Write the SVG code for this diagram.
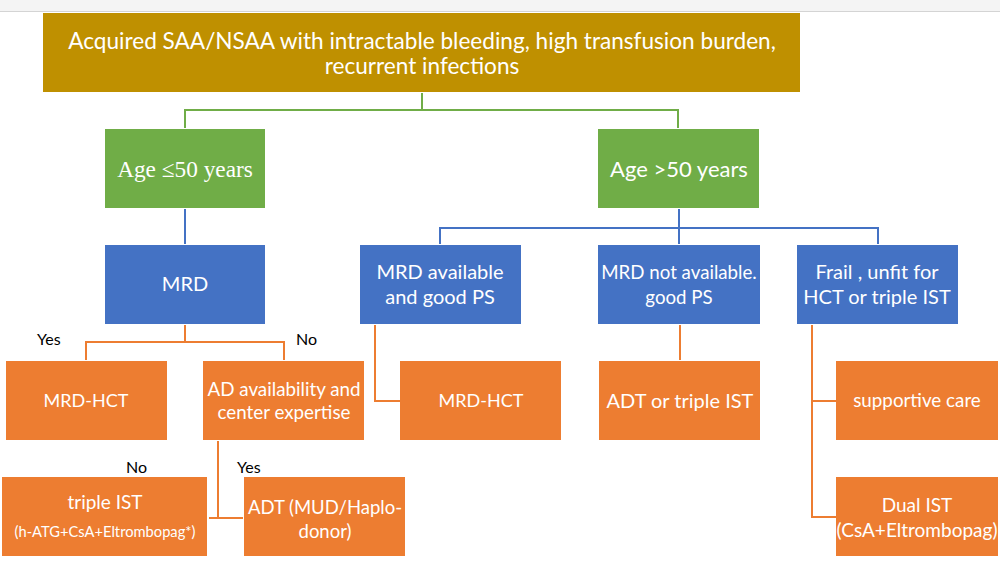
<svg xmlns="http://www.w3.org/2000/svg" width="1000" height="583" viewBox="0 0 1000 583">
<style>
.t{font-family:Lato,"Open Sans","Liberation Sans",sans-serif;fill:#fff;text-anchor:middle}
.s{font-family:"Liberation Serif",serif;fill:#fff;text-anchor:middle}
.lbl{font-family:Lato,"Liberation Sans",sans-serif;fill:#000;font-size:16px}
.gold{fill:#BF9000}
.green{fill:#70AD47}
.blue{fill:#4472C4}
.orange{fill:#ED7D31}
.cg{stroke:#70AD47;stroke-width:2;fill:none}
.cb{stroke:#4472C4;stroke-width:2;fill:none}
.co{stroke:#ED7D31;stroke-width:2;fill:none}
</style>
<rect x="0" y="0" width="1000" height="583" fill="#fff"/>
<rect x="0" y="0" width="1000" height="11" fill="#f4f4f4"/>
<line x1="0" y1="11.5" x2="1000" y2="11.5" stroke="#d4d4d4" stroke-width="1"/>
<g id="connectors">
<path class="cg" d="M422,93 V110 M185,110 H678 M185,109 V128 M678,109 V128"/>
<path class="cb" d="M185,209 V244"/>
<path class="cb" d="M679,209 V228 M440,228 H878 M440,227 V244 M679,228 V244 M878,227 V244"/>
<path class="co" d="M185,325 V342 M86,342 H284 M86,341 V360 M284,341 V360"/>
<path class="co" d="M218,441 V518 M209,518 H243"/>
<path class="co" d="M375,325 V401 H400"/>
<path class="co" d="M680,325 V360"/>
<path class="co" d="M812,325 V517 H836 M812,401 H836"/>
</g>
<g id="top"><rect class="gold" x="43" y="13" width="757" height="79"/>
<text class="t" x="422" y="49" font-size="22.6">Acquired SAA/NSAA with intractable bleeding, high transfusion burden,</text>
<text class="t" x="422" y="74" font-size="22.6">recurrent infections</text></g>
<g id="age-le50"><rect class="green" x="105" y="129" width="160" height="79"/>
<text class="s" x="185" y="177" font-size="23.3">Age ≤50 years</text></g>
<g id="age-gt50"><rect class="green" x="598" y="129" width="161" height="79"/>
<text class="t" x="679" y="177" font-size="22">Age &gt;50 years</text></g>
<g id="mrd"><rect class="blue" x="105" y="245" width="160" height="79"/>
<text class="t" x="185" y="291" font-size="20">MRD</text></g>
<g id="mrd-avail"><rect class="blue" x="360" y="245" width="161" height="79"/>
<text class="t" x="440" y="279" font-size="20">MRD available</text>
<text class="t" x="440" y="304" font-size="20">and good PS</text></g>
<g id="mrd-not"><rect class="blue" x="598" y="245" width="162" height="79"/>
<text class="t" x="679" y="279" font-size="18.7">MRD not available.</text>
<text class="t" x="679" y="304" font-size="18.7">good PS</text></g>
<g id="frail"><rect class="blue" x="797" y="245" width="161" height="79"/>
<text class="t" x="877" y="279" font-size="20">Frail , unfit for</text>
<text class="t" x="877" y="304" font-size="20">HCT or triple IST</text></g>
<g id="mrd-hct-1"><rect class="orange" x="6" y="361" width="161" height="79"/>
<text class="t" x="86" y="407" font-size="18">MRD-HCT</text></g>
<g id="ad-avail"><rect class="orange" x="203" y="361" width="161" height="79"/>
<text class="t" x="284" y="396" font-size="18.8">AD availability and</text>
<text class="t" x="284" y="419" font-size="18.8">center expertise</text></g>
<g id="mrd-hct-2"><rect class="orange" x="400" y="361" width="161" height="79"/>
<text class="t" x="481" y="407" font-size="18">MRD-HCT</text></g>
<g id="adt-or"><rect class="orange" x="599" y="361" width="161" height="79"/>
<text class="t" x="680" y="408" font-size="20">ADT or triple IST</text></g>
<g id="supportive"><rect class="orange" x="836" y="361" width="162" height="79"/>
<text class="t" x="917" y="407" font-size="18.8">supportive care</text></g>
<g id="triple-ist"><rect class="orange" x="2" y="477" width="205" height="79"/>
<text class="t" x="105" y="509" font-size="19">triple IST</text>
<text class="t" x="105" y="537" font-size="14.7">(h-ATG+CsA+Eltrombopag*)</text></g>
<g id="adt"><rect class="orange" x="244" y="477" width="161" height="79"/>
<text class="t" x="325" y="514" font-size="18.5">ADT (MUD/Haplo-</text>
<text class="t" x="325" y="538" font-size="18.5">donor)</text></g>
<g id="dual-ist"><rect class="orange" x="836" y="477" width="162" height="79"/>
<text class="t" x="917" y="512" font-size="19">Dual IST</text>
<text class="t" x="917" y="537" font-size="19">(CsA+Eltrombopag)</text></g>
<g id="labels">
<text class="lbl" x="37" y="345">Yes</text>
<text class="lbl" x="296" y="345">No</text>
<text class="lbl" x="126" y="473">No</text>
<text class="lbl" x="237" y="473">Yes</text>
</g>
</svg>
